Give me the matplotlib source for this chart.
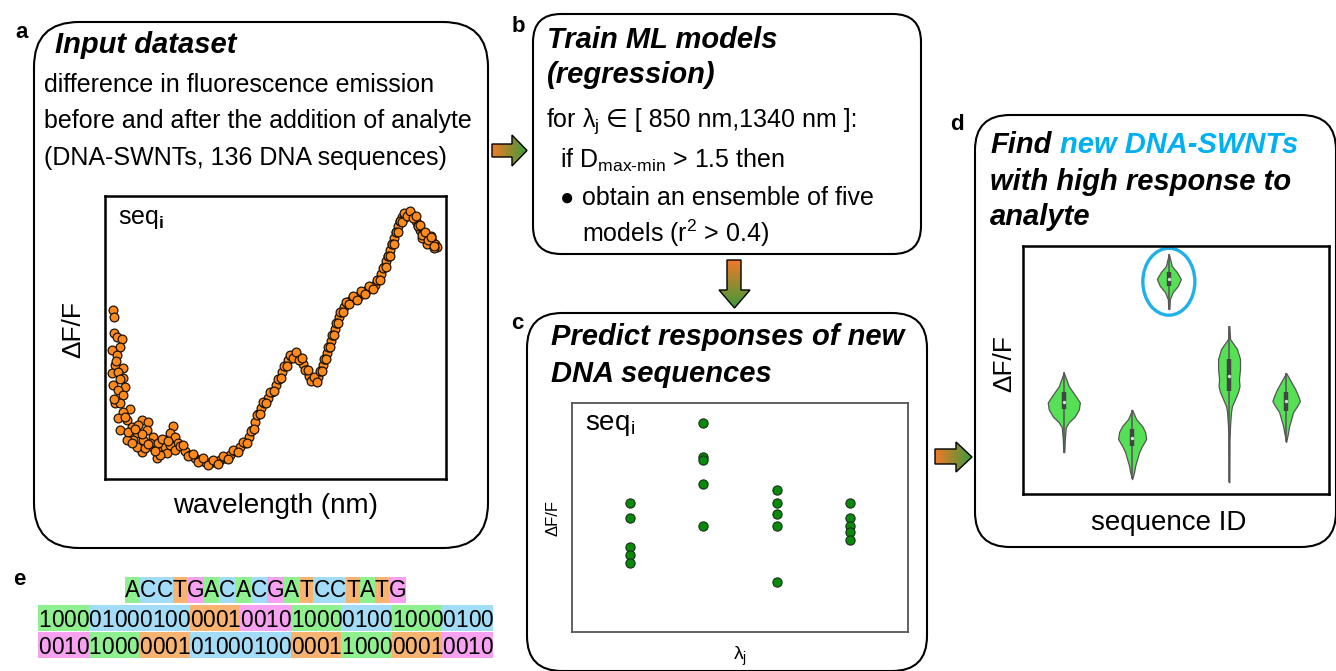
import numpy as np
import matplotlib.pyplot as plt
from matplotlib.patches import FancyBboxPatch, Rectangle, Polygon, Ellipse
from matplotlib.colors import LinearSegmentedColormap

plt.rcParams['font.family'] = ['Liberation Sans', 'DejaVu Sans']
plt.rcParams['mathtext.fontset'] = 'custom'
plt.rcParams['mathtext.rm'] = 'Liberation Sans'
plt.rcParams['mathtext.it'] = 'Liberation Sans:italic'
plt.rcParams['mathtext.bf'] = 'Liberation Sans:bold'
plt.rcParams['mathtext.sf'] = 'Liberation Sans'

# ---- panel a: measured response of one sequence ----
wavelength = [852, 854, 854, 858, 866, 863, 851, 858, 855, 867, 851, 860, 867, 852, 870, 860, 867, 855,
              863, 878, 867, 860, 873, 863, 881, 896, 905, 888, 903, 882, 897, 912, 896, 912, 918, 926,
              930, 942, 938, 945, 950, 873, 888, 908, 930, 933, 881, 920, 900, 923, 938, 945, 890, 875,
              953, 960, 968, 975, 983, 990, 998, 1005, 1013, 1020, 1028, 1035, 1043, 1050, 1056, 1061,
              1065, 1070, 1074, 1079, 1085, 1091, 1097, 1101, 1106, 1110, 1115, 1119, 1124, 1128, 1133,
              1137, 1142, 1146, 1151, 1155, 1160, 1164, 1167, 1170, 1173, 1176, 1179, 1182, 1185, 1188,
              1191, 1194, 1199, 1203, 1209, 1215, 1221, 1227, 1233, 1239, 1245, 1250, 1254, 1259, 1262,
              1265, 1268, 1271, 1274, 1277, 1280, 1283, 1286, 1290, 1295, 1299, 1304, 1307, 1310, 1313,
              1317, 1322, 1326, 1331, 1335, 1338, 1323, 1316, 1329, 1334, 1289]
dff_a = [0.169, 0.162, 0.146, 0.142, 0.140, 0.132, 0.129, 0.124, 0.114, 0.111, 0.106, 0.107, 0.101,
         0.094, 0.092, 0.089, 0.084, 0.076, 0.076, 0.070, 0.067, 0.061, 0.059, 0.049, 0.052, 0.059,
         0.057, 0.046, 0.049, 0.039, 0.039, 0.042, 0.027, 0.032, 0.021, 0.029, 0.039, 0.053, 0.046,
         0.042, 0.036, 0.039, 0.032, 0.036, 0.032, 0.026, 0.036, 0.036, 0.031, 0.024, 0.034, 0.029,
         0.054, 0.047,
         0.033, 0.028, 0.024, 0.021, 0.019, 0.017, 0.016, 0.017, 0.019, 0.021, 0.024, 0.028, 0.032,
         0.036, 0.042, 0.049, 0.057, 0.065, 0.071, 0.076, 0.081, 0.087, 0.094, 0.100, 0.107, 0.113,
         0.119, 0.123, 0.124, 0.123, 0.120, 0.115, 0.109, 0.103, 0.099, 0.099, 0.102, 0.108, 0.114,
         0.120, 0.126, 0.132, 0.138, 0.144, 0.150, 0.156, 0.162, 0.167, 0.172, 0.176, 0.179, 0.181,
         0.183, 0.186, 0.189, 0.191, 0.194, 0.199, 0.205, 0.212, 0.218, 0.223, 0.229, 0.235, 0.241,
         0.247, 0.253, 0.258, 0.262, 0.265, 0.266, 0.265, 0.262, 0.258, 0.253, 0.249, 0.246, 0.243,
         0.241, 0.238, 0.235, 0.232, 0.235, 0.241, 0.243, 0.231, 0.261]
# further points of the same spectrum (both edges of the dense band)
extra_pts = [(957, .034), (964, .023), (972, .025), (979, .017), (987, .021), (994, .014), (1002, .019),
             (1009, .015), (1017, .023), (1024, .020), (1032, .029), (1039, .027), (1047, .037),
             (1053, .036), (1059, .048), (1063, .050), (1068, .064), (1072, .065), (1077, .077),
             (1082, .076), (1088, .087), (1094, .088), (1099, .100), (1104, .101), (1108, .113),
             (1113, .113), (1117, .124), (1122, .121), (1126, .127), (1131, .119), (1135, .121),
             (1140, .109), (1144, .109), (1149, .098), (1153, .102), (1158, .097), (1162, .108),
             (1166, .108), (1169, .120), (1172, .120), (1175, .132), (1178, .132), (1181, .144),
             (1184, .144), (1187, .156), (1190, .156), (1193, .167), (1197, .167), (1201, .177),
             (1206, .175), (1212, .183), (1218, .179), (1224, .188), (1230, .185), (1236, .193),
             (1242, .190), (1248, .199), (1252, .199), (1257, .211), (1261, .212), (1264, .223),
             (1267, .223), (1270, .235), (1273, .235), (1276, .247), (1279, .247), (1282, .258),
             (1285, .257), (1288, .266), (1293, .263), (1297, .268), (1302, .261), (1306, .263),
             (1309, .253), (1312, .254), (1315, .244), (1320, .247), (1324, .239), (1329, .242),
             (1333, .233), (905, .035), (915, .028), (925, .040), (935, .038), (895, .045),
             (885, .050), (870, .062), (862, .100), (857, .118), (853, .080)]

# ---- panel c: predictions of the 5-model ensemble at 4 wavelengths ----
lambda_idx = [1, 2, 3, 4]
pred_c = [[5.65, 5.0, 3.7, 3.35, 3.0],
          [9.13, 7.65, 7.52, 6.48, 4.65],
          [6.22, 5.65, 5.17, 4.65, 2.17],
          [5.65, 5.0, 4.65, 4.35, 4.0]]

# ---- panel d: predicted response distributions per sequence ----
seq_pos = [0.80, 2.14, 2.86, 4.04, 5.16]
viol_y = [[1.69, 2.21, 2.69, 2.89, 3.13, 3.41, 3.69, 3.94, 4.34, 4.90],
          [0.60, 0.89, 1.13, 1.41, 1.69, 1.94, 2.22, 2.50, 2.74, 3.02, 3.40],
          [7.46, 7.86, 8.15, 8.39, 8.67, 8.95, 9.19, 9.68],
          [0.48, 2.22, 2.74, 3.31, 3.55, 3.83, 4.11, 4.35, 4.64, 5.04, 5.44, 5.85, 6.25, 6.77],
          [2.10, 2.50, 2.74, 3.02, 3.31, 3.55, 3.75, 3.95, 4.23, 4.52, 4.88]]
viol_dens = [[0.5, 1, 2, 5, 11, 15, 16, 12, 5, 0],
             [0, 2, 3, 5, 7, 10, 14, 13, 10, 4, 0],
             [0.5, 1, 4, 9, 12, 8, 3, 0],
             [0.3, 0.5, 1, 2, 3, 6, 9, 10.5, 10, 11, 11, 8, 1, 0.3],
             [0, 2, 3, 5, 7, 11, 13.7, 12, 9, 5, 0]]
viol_q = [(3.43, 3.71, 4.11), (1.94, 2.26, 2.62), (8.39, 8.67, 8.95), (4.15, 4.76, 5.44), (3.35, 3.75, 4.11)]
best_seq = 2

# ---- panel e: one-hot encoding ----
sequence = 'ACCTGACACGATCCTATG'
onehot = {'A': '1000', 'C': '0100', 'T': '0001', 'G': '0010'}
base_colors = {'A': '#8ff08f', 'C': '#a3dcf7', 'T': '#f8b370', 'G': '#f7a1f0'}

W, H = 1336, 671
fig = plt.figure(figsize=(W / 100, H / 100), dpi=100)
ax = fig.add_axes([0, 0, 1, 1])
ax.axis('off')


def rbox(x0, y0, x1, y1, r):
    ax.add_patch(FancyBboxPatch((x0, y0), x1 - x0, y1 - y0,
                                boxstyle=f'round,pad=0,rounding_size={r}',
                                fc='white', ec='black', lw=1.5, zorder=1))


cmap_arrow = LinearSegmentedColormap.from_list('arrow', ['#f07a28', '#3c9b3a'])


def grad_arrow(pts, vertical=False):
    poly = Polygon(pts, closed=True, fc='none', ec='black', lw=1.0, zorder=3)
    ax.add_patch(poly)
    xs = [p[0] for p in pts]
    ys = [p[1] for p in pts]
    g = np.linspace(0, 1, 64)
    img = g.reshape(-1, 1) if vertical else g.reshape(1, -1)
    im = ax.imshow(img, cmap=cmap_arrow, extent=(min(xs), max(xs), max(ys), min(ys)),
                   aspect='auto', origin='upper', zorder=2)
    im.set_clip_path(poly)


def inset(x0, y0, x1, y1, ec='black', lw=1.5):
    a = fig.add_axes([x0 / W, 1 - y1 / H, (x1 - x0) / W, (y1 - y0) / H])
    a.set_facecolor('none')
    a.set_xticks([])
    a.set_yticks([])
    for s in a.spines.values():
        s.set_color(ec)
        s.set_linewidth(lw)
    return a


# boxes
rbox(34, 22, 488, 548, 45)
rbox(533, 14, 921, 254, 28)
rbox(527, 313, 927, 671, 35)
rbox(975, 115, 1336, 547, 35)

# arrows
grad_arrow([(492, 144), (512, 144), (512, 135), (527, 150.5), (512, 166), (512, 157), (492, 157)])
grad_arrow([(727, 260), (741, 260), (741, 290), (750, 290), (734.5, 308), (719, 290), (727, 290)],
           vertical=True)
grad_arrow([(935, 449), (956, 449), (956, 442), (972, 457), (956, 472), (956, 464), (935, 464)])

# panel letters
for lab, x, y in [('a', 15, 38), ('b', 512, 32), ('c', 511, 329), ('d', 950, 130), ('e', 13, 585)]:
    ax.text(x, y, lab, fontsize=16, fontweight='bold', va='baseline')

title_kw = dict(fontsize=21, fontweight='bold', fontstyle='italic', va='baseline')
body_kw = dict(fontsize=18, va='baseline')

# panel a text
ax.text(55, 53, 'Input dataset', **title_kw)
ax.text(44, 92, 'difference in fluorescence emission', **body_kw)
ax.text(44, 128, 'before and after the addition of analyte', **body_kw)
ax.text(44, 165, '(DNA-SWNTs, 136 DNA sequences)', **body_kw)
ax.text(118, 224, r'seq$_\mathbf{i}$', fontsize=18, va='baseline')
ax.text(73, 330, 'ΔF/F', fontsize=19, rotation=90, ha='center', va='center')
ax.text(276, 513, 'wavelength (nm)', fontsize=20, ha='center', va='baseline')

# panel b text
ax.text(547, 48, 'Train ML models', **title_kw)
ax.text(547, 83, '(regression)', **title_kw)
ax.text(546, 127, r'for λ$_\mathregular{j}$', **body_kw)
ax.text(606, 127, '∈ [ 850 nm,1340 nm ]:', **body_kw)
ax.text(560, 168, r'if D$_\text{max-min}$ > 1.5 then', **body_kw)
ax.text(567, 199, '●', fontsize=17, ha='center', va='center')
ax.text(582, 205, 'obtain an ensemble of five', **body_kw)
ax.text(582, 242, r'models (r$^\mathregular{2}$ > 0.4)', **body_kw)

# panel c text
ax.text(551, 345, 'Predict responses of new', **title_kw)
ax.text(551, 382, 'DNA sequences', **title_kw)
ax.text(585, 430, r'seq$_\mathregular{i}$', fontsize=20, va='baseline')
ax.text(553, 518, 'ΔF/F', fontsize=12, rotation=90, ha='center', va='center')
ax.text(740, 660, r'λ$_\mathregular{j}$', fontsize=14, ha='center', va='baseline')

# panel d text
ax.text(990, 153, 'Find', **title_kw)
ax.text(1060, 153, 'new DNA-SWNTs', color='#00b0f0', **title_kw)
ax.text(990, 190, 'with high response to', **title_kw)
ax.text(990, 225, 'analyte', **title_kw)
ax.text(1004, 364, 'ΔF/F', fontsize=19, rotation=90, ha='center', va='center')
ax.text(1169, 530, 'sequence ID', fontsize=20, ha='center', va='baseline')

# panel e: sequence and its one-hot encoding
adv = {'A': 0.667, 'C': 0.722, 'G': 0.778, 'T': 0.611}
em = 22.6
x = 125
for b in sequence:
    w = adv[b] * em
    ax.add_patch(Rectangle((x, 577), w, 26, fc=base_colors[b], ec='none', zorder=1))
    ax.text(x + w / 2, 597, b, fontsize=16.3, ha='center', va='baseline', zorder=2)
    x += w
dw = 455 / 36
half = len(sequence) // 2
for ytop, part in [(605, sequence[:half]), (632, sequence[half:])]:
    x = 38
    for b in part:
        ax.add_patch(Rectangle((x, ytop), 4 * dw, 26, fc=base_colors[b], ec='none', zorder=1))
        for k, ch in enumerate(onehot[b]):
            ax.text(x + (k + 0.5) * dw, ytop + 22, ch, fontsize=16.4, ha='center',
                    va='baseline', zorder=2)
        x += 4 * dw

ax.set_xlim(0, W)
ax.set_ylim(H, 0)

# inset a
axa = inset(105, 196, 446, 479, lw=1.8)
wl_all = wavelength + [p[0] for p in extra_pts]
dff_all = dff_a + [p[1] for p in extra_pts]
axa.scatter(wl_all, dff_all, s=40, c='#ff8a1c', edgecolors='#1e1408', linewidths=0.9)
axa.set_xlim(840, 1351.5)
axa.set_ylim(0, 0.283)

# inset c
axc = inset(572, 403, 908, 632, ec='#555555', lw=1.3)
for xi, vals in zip(lambda_idx, pred_c):
    axc.scatter([xi] * len(vals), vals, s=44, c='#0a8a0a', edgecolors='#15301a', linewidths=0.8)
axc.set_xlim(0.2, 4.8)
axc.set_ylim(0, 10)

# inset d
axd = inset(1023, 246, 1329, 494, lw=1.8)
stats = []
for yy, dd, q in zip(viol_y, viol_dens, viol_q):
    stats.append(dict(coords=yy, vals=dd, mean=q[1], median=q[1], min=yy[0], max=yy[-1]))
widths = [0.63, 0.55, 0.47, 0.43, 0.54]
parts = axd.violin(stats, positions=seq_pos, widths=widths, showmeans=False,
                   showextrema=False, showmedians=False)
for body in parts['bodies']:
    body.set_facecolor('#55e055')
    body.set_edgecolor('#555555')
    body.set_linewidth(0.9)
    body.set_alpha(1)
for p, yy, q in zip(seq_pos, viol_y, viol_q):
    axd.vlines(p, yy[0], yy[-1], color='#555555', lw=1.1, zorder=3)
    axd.vlines(p, q[0], q[2], color='#444444', lw=3.2, zorder=3)
    axd.scatter([p], [q[1]], s=2, c='#dddddd', zorder=4)
axd.add_patch(Ellipse((seq_pos[best_seq], 8.56), 1.02, 2.70, fill=False, ec='#1fb0ea', lw=2.4,
                      clip_on=False))
axd.set_xlim(0, 6)
axd.set_ylim(0, 10)

fig.savefig('out.png', dpi=100)
